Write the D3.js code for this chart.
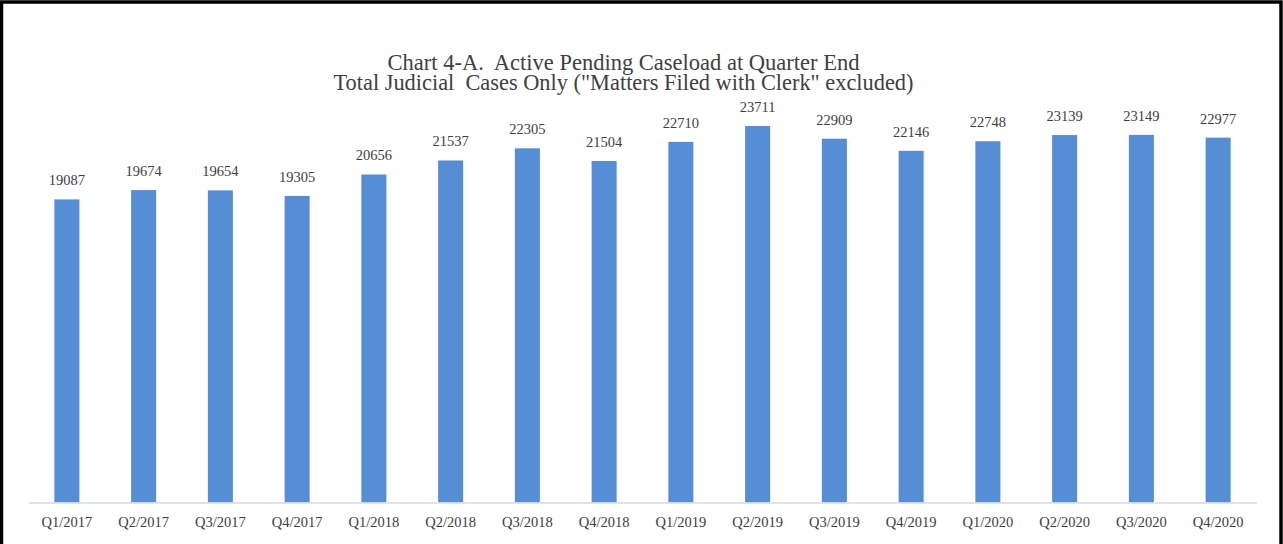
<!DOCTYPE html>
<html>
<head>
<meta charset="utf-8">
<script src="https://cdn.jsdelivr.net/npm/d3@7"></script>
<style>
  html, body { margin: 0; padding: 0; background: #fff; }
  svg { display: block; }
  text { font-family: "Liberation Serif", "Times New Roman", serif; fill: #404040; }
</style>
</head>
<body>
<svg id="svg" width="1283" height="544"></svg>
<script>
var quarters = ["Q1/2017", "Q2/2017", "Q3/2017", "Q4/2017", "Q1/2018", "Q2/2018", "Q3/2018", "Q4/2018",
                "Q1/2019", "Q2/2019", "Q3/2019", "Q4/2019", "Q1/2020", "Q2/2020", "Q3/2020", "Q4/2020"];
var pending = [19087, 19674, 19654, 19305, 20656, 21537, 22305, 21504,
               22710, 23711, 22909, 22146, 22748, 23139, 23149, 22977];
var titleLines = ["Chart 4-A.  Active Pending Caseload at Quarter End",
                  "Total Judicial  Cases Only (\"Matters Filed with Clerk\" excluded)"];

var svg = d3.select("#svg");
var W = 1283, H = 544;

// outer frame
svg.append("rect")
  .attr("x", 1.5).attr("y", 2)
  .attr("width", W - 3.5).attr("height", H + 10)
  .attr("fill", "none")
  .attr("stroke", "#000")
  .attr("stroke-width", 3.5);

let x = d3.scaleBand()
  .domain(quarters)
  .range([28.5, 1256.5])
  .paddingInner(0.674)
  .paddingOuter(0.337);

let y = d3.scaleLinear()
  .domain([0, 25000])
  .range([502.5, 105.5]);

// title, two centred lines fitted to the reference widths
let titleWidths = [472, 580];
svg.selectAll("text.title").data(titleLines).enter().append("text")
  .classed("title", true)
  .attr("x", 623.5)
  .attr("y", (d, i) => 70 + i * 20)
  .attr("text-anchor", "middle")
  .attr("font-family", "Liberation Serif, Times New Roman, serif")
  .attr("font-size", 22.5)
  .attr("textLength", (d, i) => titleWidths[i])
  .attr("lengthAdjust", "spacingAndGlyphs")
  .style("white-space", "pre")
  .text(d => d);

svg.selectAll("rect.bar").data(pending).enter().append("rect")
  .classed("bar", true)
  .attr("x", (d, i) => x(quarters[i]))
  .attr("y", d => y(d))
  .attr("width", x.bandwidth())
  .attr("height", d => y(0) - y(d))
  .attr("fill", "#558ED5");

svg.selectAll("text.val").data(pending).enter().append("text")
  .classed("val", true)
  .attr("x", (d, i) => x(quarters[i]) + x.bandwidth() / 2)
  .attr("y", d => y(d) - 14)
  .attr("text-anchor", "middle")
  .attr("font-size", 14.5)
  .text(d => d);

let axis = svg.append("g")
  .attr("transform", `translate(0,${y(0)})`)
  .call(d3.axisBottom(x).tickSize(0).tickPadding(14));
axis.select(".domain").attr("stroke", "#d9d9d9").attr("stroke-width", 1.5);
axis.selectAll("text")
  .attr("font-family", "Liberation Serif, Times New Roman, serif")
  .attr("font-size", 14.5)
  .attr("fill", "#404040");
</script>
</body>
</html>
